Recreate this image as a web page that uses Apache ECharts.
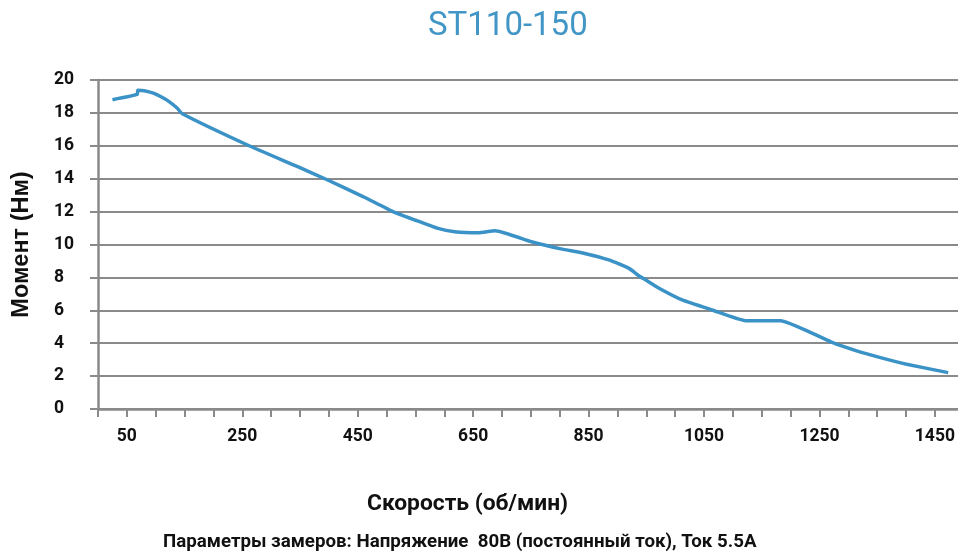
<!DOCTYPE html>
<html>
<head>
<meta charset="utf-8">
<script src="https://cdn.jsdelivr.net/npm/echarts@6/dist/echarts.min.js"></script>
<style>
html,body{margin:0;padding:0;background:#fff;}
#chart{width:958px;height:554px;}
</style>
</head>
<body>
<div id="chart"></div>
<script>
// Data
const speeds = [25, 68, 69, 80, 96, 110, 122, 137, 146, 259, 346, 398, 460, 511, 549, 589, 618, 659, 688, 751, 804, 838, 885, 920, 937, 949, 972, 1012, 1064, 1122, 1183, 1238, 1273, 1313, 1354, 1401, 1473];
const torques = [18.8, 19.12, 19.38, 19.35, 19.2, 18.97, 18.72, 18.3, 17.95, 16.05, 14.73, 13.92, 12.9, 12.0, 11.49, 10.98, 10.78, 10.72, 10.84, 10.17, 9.72, 9.5, 9.06, 8.55, 8.1, 7.84, 7.34, 6.63, 6.02, 5.37, 5.37, 4.6, 4.03, 3.55, 3.14, 2.72, 2.21];
const xTickLabels = [50, 250, 450, 650, 850, 1050, 1250, 1450];
const yTickLabels = [0, 2, 4, 6, 8, 10, 12, 14, 16, 18, 20];

const titleText = 'ST110-150';
const xName = 'Скорость (об/мин)';
const yName = 'Момент (Нм)';
const footnote = 'Параметры замеров: Напряжение  80В (постоянный ток), Ток 5.5А';

const points = speeds.map((s, i) => [s, torques[i]]);
const gray = '#8a8a8a';

const chart = echarts.init(document.getElementById('chart'));
chart.setOption({
  animation: false,
  backgroundColor: '#ffffff',
  title: {
    text: titleText,
    left: 428,
    top: 10,
    padding: 0,
    textStyle: { fontFamily: 'Roboto', fontWeight: 'normal', fontSize: 33, color: '#4196c6' }
  },
  grid: { left: 98, right: 0, top: 80, bottom: 145, containLabel: false },
  xAxis: {
    type: 'value',
    min: 0,
    max: 1490,
    interval: 50,
    axisLine: { show: true, lineStyle: { color: gray, width: 2.5 } },
    axisTick: { show: true, length: 8, lineStyle: { color: gray, width: 2 } },
    splitLine: { show: false },
    axisLabel: {
      margin: 19,
      fontFamily: 'Roboto',
      fontWeight: 'bold',
      fontSize: 17.5,
      color: '#111',
      showMaxLabel: false,
      formatter: v => (xTickLabels.indexOf(v) >= 0 ? String(v) : '')
    }
  },
  yAxis: {
    type: 'value',
    min: 0,
    max: 20,
    interval: 2,
    name: yName,
    nameLocation: 'middle',
    nameGap: 64,
    nameRotate: 90,
    nameTextStyle: { fontFamily: 'Liberation Sans', fontWeight: 'bold', fontSize: 23.5, color: '#111' },
    axisLine: { show: true, lineStyle: { color: gray, width: 2.5 } },
    axisTick: { show: true, length: 8, lineStyle: { color: gray, width: 2 } },
    splitLine: { show: true, lineStyle: { color: gray, width: 2 } },
    axisLabel: {
      margin: 44,
      align: 'left',
      fontFamily: 'Roboto',
      fontWeight: 'bold',
      fontSize: 17.5,
      color: '#111',
      formatter: v => (yTickLabels.indexOf(v) >= 0 ? String(v) : '')
    }
  },
  graphic: [
    {
      type: 'text', left: 367, top: 493,
      style: { text: xName, fontFamily: 'Roboto', fontWeight: 'bold', fontSize: 22.8, fill: '#111' }
    },
    {
      type: 'text', left: 163, top: 533,
      style: { text: footnote, fontFamily: 'Roboto', fontWeight: 'bold', fontSize: 18.7, fill: '#111' }
    }
  ],
  series: [{
    type: 'line',
    data: points,
    showSymbol: false,
    smooth: 0.15,
    lineStyle: { color: '#3a92c6', width: 3.5 },
    itemStyle: { color: '#3a92c6' }
  }]
});
</script>
</body>
</html>
